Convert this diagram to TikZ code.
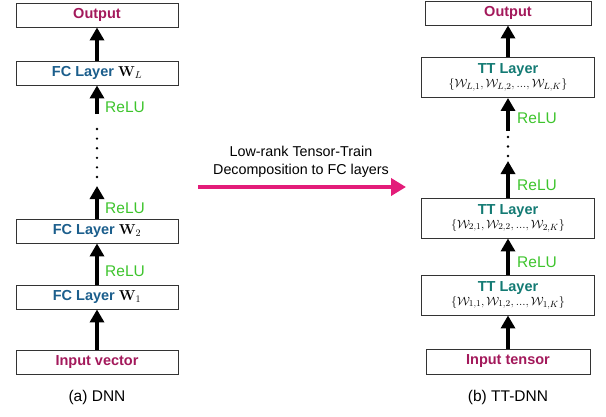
\documentclass[tikz,border=0pt]{standalone}
\usepackage{amsmath}
\usepackage[no-math]{fontspec}
\setmainfont{Liberation Sans}
\usetikzlibrary{arrows.meta}

\definecolor{iocol}{HTML}{A3195B}
\definecolor{fccol}{HTML}{1B5E8C}
\definecolor{ttcol}{HTML}{137A73}
\definecolor{relucol}{HTML}{3DC42C}
\definecolor{pinkcol}{HTML}{E31C79}

\tikzset{
  layerbox/.style={draw=black!80, line width=0.9pt, inner sep=0pt, align=center},
  iobox/.style={layerbox, font=\fontsize{14.5}{16}\selectfont\bfseries, text=iocol},
  fcbox/.style={layerbox, minimum width=162pt, minimum height=24pt,
    font=\fontsize{14.5}{16}\selectfont\bfseries, text=fccol},
  ttbox/.style={layerbox, minimum width=173pt, minimum height=40pt},
  flow/.style={line width=3.4pt, -{Triangle[width=14pt,length=13pt]}},
  relu/.style={anchor=west, inner sep=0pt, text=relucol, font=\fontsize{15.5}{17}\selectfont},
  vdot/.style={fill=black, circle, inner sep=0pt, minimum size=2.6pt},
  caption/.style={font=\fontsize{15.5}{17}\selectfont}
}

\newcommand{\fcw}[1]{{\color{black}$\mathbf{W}_{#1}$}}
\newcommand{\ttlayer}[1]{%
  {\color{ttcol}\fontsize{14.5}{16}\selectfont\bfseries TT Layer}\\[1pt]
  {\fontsize{12.3}{14}\selectfont$\{\mathcal{W}_{#1,1},\mathcal{W}_{#1,2},...,\mathcal{W}_{#1,K}\}$}}

\begin{document}
\begin{tikzpicture}[x=1pt,y=-1pt]
  \useasboundingbox (0,0) rectangle (606,416);

  % ---- fully connected network ----
  \node[iobox, minimum width=162pt, minimum height=24pt] (outL) at (97,15) {Output};
  \node[fcbox] (fcL) at (97,73) {FC Layer \fcw{L}};
  \node[fcbox] (fc2) at (97,231) {FC Layer \fcw{2}};
  \node[fcbox] (fc1) at (97,297) {FC Layer \fcw{1}};
  \node[iobox, minimum width=162pt, minimum height=24pt] (inL) at (97,362) {Input vector};

  \coordinate (aLtail) at (97,114);
  \coordinate (aLhead) at (97,186);
  \draw[flow] (fcL) -- (outL);
  \draw[flow] (aLtail) -- (fcL);
  \draw[flow] (fc2) -- (aLhead);
  \draw[flow] (fc1) -- (fc2);
  \draw[flow] (inL) -- (fc1);

  \foreach \y [count=\i] in {129,138.6,148.2,157.8,167.4,177}
    \node[vdot] (ldot\i) at (97,\y) {};

  \node[relu] (reluL3) at (105,107) {ReLU};
  \node[relu] (reluL2) at (105,208) {ReLU};
  \node[relu] (reluL1) at (105,271) {ReLU};

  \node[caption] (capA) at (97,397) {(a) DNN};

  % ---- tensor-train network ----
  \node[iobox, minimum width=166pt, minimum height=24pt] (outR) at (508,13) {Output};
  \node[ttbox] (ttL) at (508,77.5) {\ttlayer{L}};
  \node[ttbox] (tt2) at (508,218) {\ttlayer{2}};
  \node[ttbox] (tt1) at (508,295) {\ttlayer{1}};
  \node[iobox, minimum width=164pt, minimum height=25pt] (inR) at (508,361.5) {Input tensor};

  \coordinate (aRtail) at (508,131);
  \coordinate (aRhead) at (508,161);
  \draw[flow] (ttL) -- (outR);
  \draw[flow] (aRtail) -- (ttL);
  \draw[flow] (tt2) -- (aRhead);
  \draw[flow] (tt1) -- (tt2);
  \draw[flow] (inR) -- (tt1);

  \foreach \y [count=\i] in {137,146.5,156}
    \node[vdot] (rdot\i) at (508,\y) {};

  \node[relu] (reluR3) at (517,118) {ReLU};
  \node[relu] (reluR2) at (517,185) {ReLU};
  \node[relu] (reluR1) at (517,262) {ReLU};

  \node[caption] (capB) at (508,397) {(b) TT-DNN};

  % ---- decomposition arrow ----
  \coordinate (dA) at (198,187);
  \coordinate (dB) at (406,187);
  \draw[pinkcol, line width=4pt, -{Triangle[width=17pt,length=15pt]}] (dA) -- (dB);
  \node[align=center, font=\fontsize{14.3}{18}\selectfont] (dlabel) at (301,162)
    {Low-rank Tensor-Train\\Decomposition to FC layers};
\end{tikzpicture}
\end{document}
